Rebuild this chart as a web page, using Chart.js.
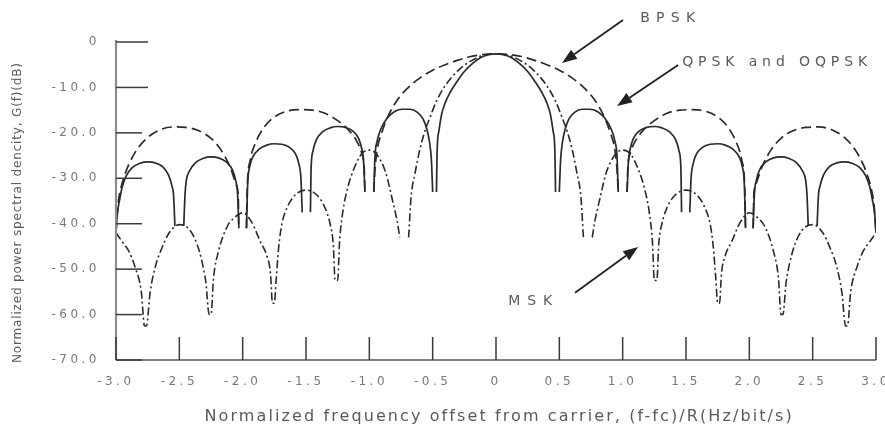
<!DOCTYPE html>
<html>
<head>
<meta charset="utf-8">
<script src="https://cdn.jsdelivr.net/npm/chart.js@4/dist/chart.umd.min.js"></script>
<style>
  html, body { margin: 0; padding: 0; background: #fff; }
  canvas { display: block; }
</style>
</head>
<body>
<canvas id="psd" width="885" height="428"></canvas>
<script>
// values: [frequency offset (f-fc)/R, power density dB]
// null = a gap (the plot shows the null as two separate vertical strokes)
const bpskPoints = [
  [-3.0, -42], [-2.985, -36], [-2.96, -32], [-2.93, -29.2], [-2.9, -27], [-2.83, -23.5], [-2.75, -21.0],
  [-2.65, -19.3], [-2.55, -18.7], [-2.45, -18.8], [-2.35, -19.5], [-2.25, -21.2], [-2.17, -23.8],
  [-2.1, -27.5], [-2.05, -31.5], [-2.035, -34], [-2.03, -41], [-2.0, null],
  [-1.97, -41], [-1.965, -33], [-1.94, -26], [-1.9, -22.3], [-1.83, -18.7], [-1.75, -16.5], [-1.65, -15.2],
  [-1.55, -14.9], [-1.45, -15.0], [-1.35, -15.7], [-1.25, -17.3], [-1.17, -19.2], [-1.1, -21.8],
  [-1.06, -24.5], [-1.04, -28], [-1.035, -33], [-1.0, null],
  [-0.965, -33], [-0.955, -28], [-0.94, -24], [-0.9, -19.8], [-0.85, -16.2], [-0.78, -12.8], [-0.7, -10.2],
  [-0.6, -7.9], [-0.5, -6.2], [-0.4, -5.0], [-0.3, -4.0], [-0.2, -3.2], [-0.1, -2.75], [0, -2.6],
  [0.1, -2.75], [0.2, -3.2], [0.3, -4.0], [0.4, -5.0], [0.5, -6.2], [0.6, -7.9], [0.7, -10.2],
  [0.78, -12.8], [0.85, -16.2], [0.9, -19.8], [0.94, -24], [0.955, -28], [0.965, -33], [1.0, null],
  [1.035, -33], [1.04, -28], [1.06, -24.5], [1.1, -21.8], [1.17, -19.2], [1.25, -17.3], [1.35, -15.7],
  [1.45, -15.0], [1.55, -14.9], [1.65, -15.2], [1.75, -16.5], [1.83, -18.7], [1.9, -22.3], [1.94, -26],
  [1.965, -33], [1.97, -41], [2.0, null],
  [2.03, -41], [2.035, -34], [2.05, -31.5], [2.1, -27.5], [2.17, -23.8], [2.25, -21.2], [2.35, -19.5],
  [2.45, -18.8], [2.55, -18.7], [2.65, -19.3], [2.75, -21.0], [2.83, -23.5], [2.9, -27], [2.93, -29.2],
  [2.96, -32], [2.985, -36], [3.0, -42]
];

const qpskPoints = [
  [-3.0, -42], [-2.99, -38], [-2.97, -34.5], [-2.95, -31.8], [-2.92, -29.5], [-2.87, -27.6], [-2.81, -26.7],
  [-2.75, -26.4], [-2.69, -26.6], [-2.63, -27.5], [-2.585, -29.3], [-2.56, -31.5], [-2.545, -34],
  [-2.535, -40.5], [-2.5, null],
  [-2.465, -40.5], [-2.455, -33.5], [-2.445, -30.5], [-2.42, -28.4], [-2.37, -26.5], [-2.31, -25.6],
  [-2.25, -25.3], [-2.19, -25.5], [-2.13, -26.4], [-2.08, -28.2], [-2.055, -30.5], [-2.04, -33.5],
  [-2.03, -41], [-2.0, null],
  [-1.97, -41], [-1.96, -31], [-1.945, -27.5], [-1.92, -25.3], [-1.87, -23.6], [-1.81, -22.7],
  [-1.75, -22.4], [-1.69, -22.5], [-1.63, -23.2], [-1.58, -24.8], [-1.555, -27], [-1.54, -30],
  [-1.53, -37.5], [-1.5, null],
  [-1.465, -37.5], [-1.46, -28], [-1.445, -24], [-1.42, -21.6], [-1.37, -19.8], [-1.31, -18.9],
  [-1.25, -18.6], [-1.19, -18.8], [-1.13, -19.6], [-1.085, -21.2], [-1.06, -23.5], [-1.045, -26.5],
  [-1.035, -33], [-1.0, null],
  [-0.965, -33], [-0.955, -25], [-0.94, -22], [-0.91, -19.2], [-0.86, -16.8], [-0.80, -15.3],
  [-0.74, -14.8], [-0.68, -14.8], [-0.62, -15.5], [-0.575, -17.0], [-0.545, -19.3], [-0.525, -22],
  [-0.51, -26], [-0.50, -33], [-0.485, null],
  [-0.47, -33], [-0.465, -24], [-0.45, -19.5], [-0.43, -16.0], [-0.40, -13.3], [-0.36, -11.0],
  [-0.31, -8.8], [-0.25, -6.5], [-0.18, -4.6], [-0.12, -3.4], [-0.06, -2.8], [0, -2.6],
  [0.06, -2.8], [0.12, -3.4], [0.18, -4.6], [0.25, -6.5], [0.31, -8.8], [0.36, -11.0], [0.40, -13.3],
  [0.43, -16.0], [0.45, -19.5], [0.465, -24], [0.47, -33], [0.485, null],
  [0.50, -33], [0.51, -26], [0.525, -22], [0.545, -19.3], [0.575, -17.0], [0.62, -15.5], [0.68, -14.8],
  [0.74, -14.8], [0.80, -15.3], [0.86, -16.8], [0.91, -19.2], [0.94, -22], [0.955, -25], [0.965, -33],
  [1.0, null],
  [1.035, -33], [1.045, -26.5], [1.06, -23.5], [1.085, -21.2], [1.13, -19.6], [1.19, -18.8], [1.25, -18.6],
  [1.31, -18.9], [1.37, -19.8], [1.42, -21.6], [1.445, -24], [1.46, -28], [1.465, -37.5], [1.5, null],
  [1.53, -37.5], [1.54, -30], [1.555, -27], [1.58, -24.8], [1.63, -23.2], [1.69, -22.5], [1.75, -22.4],
  [1.81, -22.7], [1.87, -23.6], [1.92, -25.3], [1.945, -27.5], [1.96, -31], [1.97, -41], [2.0, null],
  [2.03, -41], [2.04, -33.5], [2.055, -30.5], [2.08, -28.2], [2.13, -26.4], [2.19, -25.5], [2.25, -25.3],
  [2.31, -25.6], [2.37, -26.5], [2.42, -28.4], [2.445, -30.5], [2.455, -33.5], [2.465, -40.5], [2.5, null],
  [2.535, -40.5], [2.545, -34], [2.56, -31.5], [2.585, -29.3], [2.63, -27.5], [2.69, -26.6], [2.75, -26.4],
  [2.81, -26.7], [2.87, -27.6], [2.92, -29.5], [2.95, -31.8], [2.97, -34.5], [2.99, -38], [3.0, -42]
];

const mskPoints = [
  [-3.0, -42], [-2.95, -44], [-2.9, -46], [-2.85, -49.5], [-2.8, -55], [-2.775, -62.5], [-2.76, -62.5],
  [-2.73, -55], [-2.69, -49.5], [-2.64, -45.5], [-2.58, -42], [-2.5, -40.2], [-2.42, -41.3], [-2.36, -44.5],
  [-2.32, -48.5], [-2.29, -53], [-2.265, -60], [-2.25, -60], [-2.23, -52], [-2.19, -46], [-2.12, -40.5],
  [-2.07, -38.8], [-2.0, -37.6], [-1.93, -39.6], [-1.86, -44], [-1.81, -47], [-1.78, -51], [-1.765, -57.5],
  [-1.75, -57.5], [-1.735, -52], [-1.715, -45], [-1.69, -40], [-1.65, -36.5], [-1.59, -33.8], [-1.5, -32.6],
  [-1.41, -33.8], [-1.35, -36.5], [-1.31, -40], [-1.285, -44.5], [-1.27, -52.5], [-1.25, -52.5],
  [-1.235, -44], [-1.21, -37.5], [-1.17, -32], [-1.12, -27.8], [-1.06, -24.6], [-1.0, -23.8], [-0.94, -24.8],
  [-0.87, -28.8], [-0.82, -34.5], [-0.78, -39.5], [-0.76, -43], [-0.725, null],
  [-0.69, -43], [-0.67, -34], [-0.64, -29], [-0.6, -23.5], [-0.56, -19.5], [-0.52, -16.5], [-0.47, -13],
  [-0.4, -9.6], [-0.3, -6.3], [-0.2, -4.2], [-0.1, -2.95], [0, -2.6],
  [0.1, -2.95], [0.2, -4.2], [0.3, -6.3], [0.4, -9.6], [0.47, -13], [0.52, -16.5], [0.56, -19.5],
  [0.6, -23.5], [0.64, -29], [0.67, -34], [0.69, -43], [0.725, null],
  [0.76, -43], [0.78, -39.5], [0.82, -34.5], [0.87, -28.8], [0.94, -24.8], [1.0, -23.8], [1.06, -24.6],
  [1.12, -27.8], [1.17, -32], [1.21, -37.5], [1.235, -44], [1.25, -52.5], [1.27, -52.5], [1.285, -44.5],
  [1.31, -40], [1.35, -36.5], [1.41, -33.8], [1.5, -32.6], [1.59, -33.8], [1.65, -36.5], [1.69, -40],
  [1.715, -45], [1.735, -52], [1.75, -57.5], [1.765, -57.5], [1.78, -51], [1.81, -47], [1.86, -44],
  [1.93, -39.6], [2.0, -37.6], [2.07, -38.8], [2.12, -40.5], [2.19, -46], [2.23, -52], [2.25, -60],
  [2.265, -60], [2.29, -53], [2.32, -48.5], [2.36, -44.5], [2.42, -41.3], [2.5, -40.2], [2.58, -42],
  [2.64, -45.5], [2.69, -49.5], [2.73, -55], [2.76, -62.5], [2.775, -62.5], [2.8, -55], [2.85, -49.5],
  [2.9, -46], [2.95, -44], [3.0, -42]
];

const xMin = -3, xMax = 3, xStep = 0.5;
const yMin = -70, yMax = 0, yStep = 10;

const xTitle = 'Normalized frequency offset from carrier, (f-fc)/R(Hz/bit/s)';
const yTitle = 'Normalized power spectral dencity, G(f)(dB)';

// annotation labels and arrows, placed in data units [f, dB]
const labels = [
  { text: 'BPSK', at: [1.355, 5.3], width: 55 },
  { text: 'QPSK and OQPSK', at: [2.2, -4.4], width: 185 },
  { text: 'MSK', at: [0.27, -57.0], width: 44 }
];
const arrows = [
  { from: [1.003, 4.84], to: [0.521, -4.62] },
  { from: [1.438, -5.06], to: [0.956, -14.1] },
  { from: [0.624, -55.2], to: [1.122, -45.1] }
];

const toXY = (pts) => pts.map(([f, db]) => ({ x: f, y: db }));
const tickText = (v) => (v === 0 ? '0' : v.toFixed(1));

// draws text stretched to a given width with letter spacing, like the scanned figure
function spacedText(ctx, text, cx, cy, width) {
  ctx.letterSpacing = '0px';
  const w = ctx.measureText(text).width;
  const sp = (width - w) / (text.length - 1);
  ctx.letterSpacing = sp + 'px';
  ctx.textAlign = 'left';
  ctx.fillText(text, cx - width / 2, cy);
}

const decor = {
  id: 'decor',
  beforeDraw(chart) {
    chart.ctx.letterSpacing = '3.5px';
  },
  afterDraw(chart) {
    const { ctx, chartArea: a, scales: { x, y } } = chart;
    ctx.save();
    ctx.letterSpacing = '0px';

    // axis lines
    ctx.strokeStyle = '#8c8c8c';
    ctx.lineWidth = 2.2;
    ctx.beginPath();
    ctx.moveTo(a.left, a.top - 2);
    ctx.lineTo(a.left, a.bottom);
    ctx.stroke();
    ctx.strokeStyle = '#555';
    ctx.lineWidth = 1.5;
    ctx.beginPath();
    ctx.moveTo(a.left, a.bottom);
    ctx.lineTo(a.right, a.bottom);
    ctx.stroke();

    // tick marks point inward
    ctx.strokeStyle = '#3a3a3a';
    ctx.lineWidth = 1.5;
    x.ticks.forEach((t) => {
      const px = x.getPixelForValue(t.value);
      ctx.beginPath();
      ctx.moveTo(px, a.bottom);
      ctx.lineTo(px, a.bottom - 23);
      ctx.stroke();
    });
    y.ticks.forEach((t) => {
      const py = y.getPixelForValue(t.value);
      const len = t.value >= -10 ? 32 : 26;
      ctx.beginPath();
      ctx.moveTo(a.left, py);
      ctx.lineTo(a.left + len, py);
      ctx.stroke();
    });

    // axis titles
    ctx.fillStyle = '#5a5a5a';
    ctx.textBaseline = 'alphabetic';
    ctx.font = '16px "DejaVu Sans"';
    spacedText(ctx, xTitle, 498, 421, 587);

    ctx.save();
    ctx.translate(21, 213);
    ctx.rotate(-Math.PI / 2);
    ctx.font = '12px "DejaVu Sans"';
    spacedText(ctx, yTitle, 0, 0, 300);
    ctx.restore();

    // curve labels
    ctx.font = '14px "DejaVu Sans"';
    ctx.textBaseline = 'middle';
    labels.forEach((l) => {
      spacedText(ctx, l.text, x.getPixelForValue(l.at[0]), y.getPixelForValue(l.at[1]), l.width);
    });

    // arrows
    ctx.strokeStyle = '#222';
    ctx.fillStyle = '#222';
    ctx.lineWidth = 1.8;
    arrows.forEach((ar) => {
      const x0 = x.getPixelForValue(ar.from[0]), y0 = y.getPixelForValue(ar.from[1]);
      const x1 = x.getPixelForValue(ar.to[0]), y1 = y.getPixelForValue(ar.to[1]);
      const ang = Math.atan2(y1 - y0, x1 - x0);
      const head = 15, half = 5.5;
      const bx = x1 - head * Math.cos(ang), by = y1 - head * Math.sin(ang);
      ctx.beginPath();
      ctx.moveTo(x0, y0);
      ctx.lineTo(bx, by);
      ctx.stroke();
      ctx.beginPath();
      ctx.moveTo(x1, y1);
      ctx.lineTo(bx + half * Math.sin(ang), by - half * Math.cos(ang));
      ctx.lineTo(bx - half * Math.sin(ang), by + half * Math.cos(ang));
      ctx.closePath();
      ctx.fill();
    });
    ctx.restore();
  }
};

const tickFont = { family: 'DejaVu Sans', size: 12 };

new Chart(document.getElementById('psd'), {
  type: 'line',
  data: {
    datasets: [
      {
        label: 'BPSK',
        data: toXY(bpskPoints),
        borderColor: '#2a2a2a',
        borderWidth: 1.7,
        borderDash: [10, 5],
      },
      {
        label: 'QPSK and OQPSK',
        data: toXY(qpskPoints),
        borderColor: '#2a2a2a',
        borderWidth: 1.7,
      },
      {
        label: 'MSK',
        data: toXY(mskPoints),
        borderColor: '#2a2a2a',
        borderWidth: 1.6,
        borderDash: [8, 3, 2, 3],
      },
    ],
  },
  options: {
    responsive: false,
    animation: false,
    events: [],
    layout: { padding: { top: 42, right: 9, left: 0, bottom: 0 } },
    elements: {
      point: { radius: 0 },
      line: { cubicInterpolationMode: 'monotone', fill: false },
    },
    plugins: { legend: { display: false }, tooltip: { enabled: false } },
    scales: {
      x: {
        type: 'linear',
        min: xMin,
        max: xMax,
        grid: { display: false, drawTicks: false },
        border: { display: false },
        ticks: {
          stepSize: xStep,
          autoSkip: false,
          maxRotation: 0,
          padding: 15,
          color: '#777',
          font: tickFont,
          callback: tickText,
        },
        afterFit: (s) => { s.height = 68; s.paddingLeft = 0; s.paddingRight = 0; },
      },
      y: {
        min: yMin,
        max: yMax,
        grid: { display: false, drawTicks: false },
        border: { display: false },
        ticks: {
          stepSize: yStep,
          padding: 16,
          color: '#777',
          font: tickFont,
          callback: tickText,
        },
        afterFit: (s) => { s.width = 116; s.paddingTop = 0; s.paddingBottom = 0; },
      },
    },
  },
  plugins: [decor],
});
</script>
</body>
</html>
